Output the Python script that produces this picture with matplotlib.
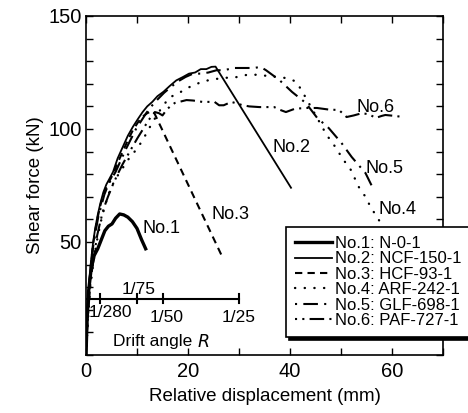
import matplotlib
matplotlib.use("Agg")
import matplotlib.pyplot as plt
from matplotlib.ticker import MultipleLocator, FixedLocator

plt.rcParams['font.family'] = ['Liberation Sans', 'DejaVu Sans']

# ---- data ----
x1 = [0, 0.2, 0.5, 1.0, 1.6, 2.3, 3.0, 3.7, 4.4, 5.1, 5.8, 6.6, 7.4, 8.2, 9.1, 10.0, 10.9, 11.7]
y1 = [0, 15, 28, 38, 44, 47, 51, 55, 57, 58, 60.5, 62.4, 62, 61, 59, 56, 51, 47]

x2 = [0, 0.2, 0.4, 0.7, 1.0, 1.4, 1.8, 2.3, 2.8, 3.4, 4.0, 4.6, 5.3, 6.2, 7.2, 8.2, 9.2, 10.2,
      11.1, 12.0, 13.0, 14.0, 15.2, 16.4, 17.7, 19.0, 20.2, 21.4, 22.5, 23.6, 24.6, 25.4, 40.2]
y2 = [0, 12, 24, 34, 42, 50, 56, 62, 67, 72, 75.5, 78, 81, 87, 92, 97, 101, 104.5,
      107.5, 110, 112, 114.5, 116.5, 119, 121.5, 123, 124.5, 125, 126.5, 126.5, 127.5, 127.6, 74]

x3 = [0, 0.2, 0.4, 0.7, 1.0, 1.4, 1.8, 2.3, 2.8, 3.4, 4.0, 4.6, 5.3, 6.2, 7.2, 8.2, 9.2, 10.2,
      11.1, 12.0, 12.8, 13.3, 26.6]
y3 = [0, 12, 23, 33, 41, 49, 55, 61, 66, 71, 74.5, 77, 80, 85, 90, 95, 99.5, 103,
      105.5, 107, 107.8, 107.5, 44]

x4 = [0, 0.3, 0.6, 1.0, 1.5, 2.1, 2.8, 3.7, 4.7, 5.8, 7.0, 8.1, 9.2, 10.2, 11.1, 12.3, 13.6, 15.0,
      16.4, 18.3, 19.7, 21.3, 22.8, 25.0, 27.1, 29.7, 31.6, 33.6, 35.5, 37.5, 39.4, 41.2, 42.3, 43.3,
      45.3, 47.2, 48.6, 50.5, 51.9, 53.5, 54.8, 55.8, 57.8]
y4 = [0, 12, 23, 33, 42, 50, 58, 66, 73, 78, 82, 86, 89, 92, 95, 100, 105, 110,
      114, 116, 118, 119.5, 121, 122, 122.6, 123, 124, 124, 123.5, 123, 122.5, 121, 117, 113,
      105, 97.3, 93, 86.3, 82, 74.3, 70, 65.5, 58.4]

x5 = [0, 0.2, 0.4, 0.7, 1.0, 1.4, 1.9, 2.4, 3.0, 3.6, 4.3, 5.0, 5.8, 6.8, 7.8, 8.8, 9.8, 10.8,
      11.8, 12.8, 14.0, 15.3, 16.6, 18.0, 19.5, 21.0, 22.5, 24.0, 25.6, 27.0, 29.0, 31.0, 33.0,
      34.2, 35.3, 37.9, 40.4, 43.1, 45.3, 47.6, 50.1, 52.1, 54.8, 56.0]
y5 = [0, 11, 22, 32, 40, 48, 55, 61, 66, 71, 75, 78, 81, 86, 91, 95.5, 100, 103.5,
      107, 110, 113, 116, 118.5, 121, 123, 124.5, 124.5, 125, 126, 126, 127, 127, 127,
      127.5, 126, 121.7, 116.4, 111.5, 105, 100.4, 93.8, 87.6, 80.5, 75]

x6 = [0, 0.2, 0.5, 0.8, 1.2, 1.7, 2.2, 2.8, 3.5, 4.3, 5.2, 6.2, 7.2, 8.2, 9.2, 10.1, 11.2, 12.3,
      13.5, 14.3, 15.0, 15.8, 16.5, 17.4, 18.3, 19.7, 21.0, 22.8, 24.0, 25.2, 26.1, 27.0, 28.5,
      30.6, 32.0, 34.0, 36.9, 38.0, 39.2, 41.0, 43.3, 45.3, 47.6, 49.6, 51.1, 52.5, 54.1, 55.5,
      56.8, 58.0, 58.7, 60.5, 62.2]
y6 = [0, 11, 21, 30, 38, 46, 53, 59, 65, 70, 75, 80, 84.5, 88.5, 92.5, 96, 100, 104,
      107.5, 107, 106, 108.5, 110, 111.5, 112, 112.8, 112.6, 112, 112, 112, 110.5, 110.5, 112,
      110.6, 110, 109.7, 109.7, 108.5, 107.5, 109, 109.3, 109.3, 108.6, 108.4, 105.3, 106, 107, 106.5,
      104.9, 105.8, 106.2, 105.8, 105.3]

legend_labels = ["No.1: N-0-1", "No.2: NCF-150-1", "No.3: HCF-93-1",
                 "No.4: ARF-242-1", "No.5: GLF-698-1", "No.6: PAF-727-1"]
curve_tags = ["No.1", "No.2", "No.3", "No.4", "No.5", "No.6"]
tag_x = [11.1, 36.5, 24.6, 57.4, 54.8, 53.0]
tag_y = [56, 91.6, 62, 64.6, 82.7, 109.3]

drift_labels = ["1/280", "1/75", "1/50", "1/25"]
drift_pos = [2.68, 10.0, 15.0, 30.0]   # displacement (mm) for each drift angle
drift_axis_y = 25

# ---- figure ----
fig = plt.figure(figsize=(4.68, 4.13), dpi=100)
ax = fig.add_axes([86/468, 1-355/413, (443-86)/468, (355-16)/413])

styles = [
    dict(color='k', lw=2.4, ls='-'),
    dict(color='k', lw=1.3, ls='-'),
    dict(color='k', lw=1.5, ls=(0, (3.5, 2.5))),
    dict(color='k', lw=1.7, ls=(0, (0.1, 4.0)), dash_capstyle='round'),
    dict(color='k', lw=1.5, ls=(0, (1, 3, 7, 3))),
    dict(color='k', lw=1.5, ls=(0, (1, 2.5, 1, 2.5, 7, 2.5))),
]
xs = [x1, x2, x3, x4, x5, x6]
ys = [y1, y2, y3, y4, y5, y6]
lines = []
for x, y, st, lab in zip(xs, ys, styles, legend_labels):
    ln, = ax.plot(x, y, label=lab, **st)
    lines.append(ln)

for t, tx, ty in zip(curve_tags, tag_x, tag_y):
    ax.text(tx, ty, t, fontsize=13, ha='left', va='center')

# drift angle axis
ax.plot([0, drift_pos[-1]], [drift_axis_y, drift_axis_y], color='k', lw=1.5)
for p in drift_pos:
    ax.plot([p, p], [drift_axis_y - 2, drift_axis_y + 2], color='k', lw=1.5)
ax.text(4.7, 18.6, drift_labels[0], fontsize=12.5, ha='center', va='center')
ax.text(10.3, 28.8, drift_labels[1], fontsize=12.5, ha='center', va='center')
ax.text(15.8, 16.8, drift_labels[2], fontsize=12.5, ha='center', va='center')
ax.text(30.0, 16.4, drift_labels[3], fontsize=12.5, ha='center', va='center')
ax.text(21.8, 5.8, "Drift angle ", fontsize=12.5, ha='right', va='center')
ax.text(21.8, 5.8, "$R$", fontsize=12.5, ha='left', va='center')

ax.set_xlim(0, 70)
ax.set_ylim(0, 150)
ax.xaxis.set_major_locator(FixedLocator([0, 20, 40, 60]))
ax.xaxis.set_minor_locator(MultipleLocator(10))
ax.yaxis.set_major_locator(FixedLocator([50, 100, 150]))
ax.yaxis.set_minor_locator(MultipleLocator(10))
ax.tick_params(which='both', direction='in', top=True, right=True, length=5, width=1.0,
               labelsize=14.5)
ax.tick_params(axis='x', pad=5)
ax.tick_params(axis='y', pad=3)
for s in ax.spines.values():
    s.set_linewidth(1.2)

ax.set_xlabel("Relative displacement (mm)", fontsize=13.5, labelpad=5)
ax.set_ylabel("Shear force (kN)", fontsize=13.5, labelpad=3)

leg = ax.legend(handles=lines, loc='upper left',
                bbox_to_anchor=(286/468, 1-227/413), bbox_transform=fig.transFigure,
                fontsize=12, frameon=True, fancybox=False,
                shadow={'color': 'black', 'alpha': 1.0},
                handlelength=2.2, handletextpad=0.2, labelspacing=0.02,
                borderpad=0.55, borderaxespad=0)
leg.get_frame().set_edgecolor('k')
leg.get_frame().set_linewidth(1.2)
leg.get_frame().set_alpha(1.0)

fig.savefig("out.png", dpi=100)
